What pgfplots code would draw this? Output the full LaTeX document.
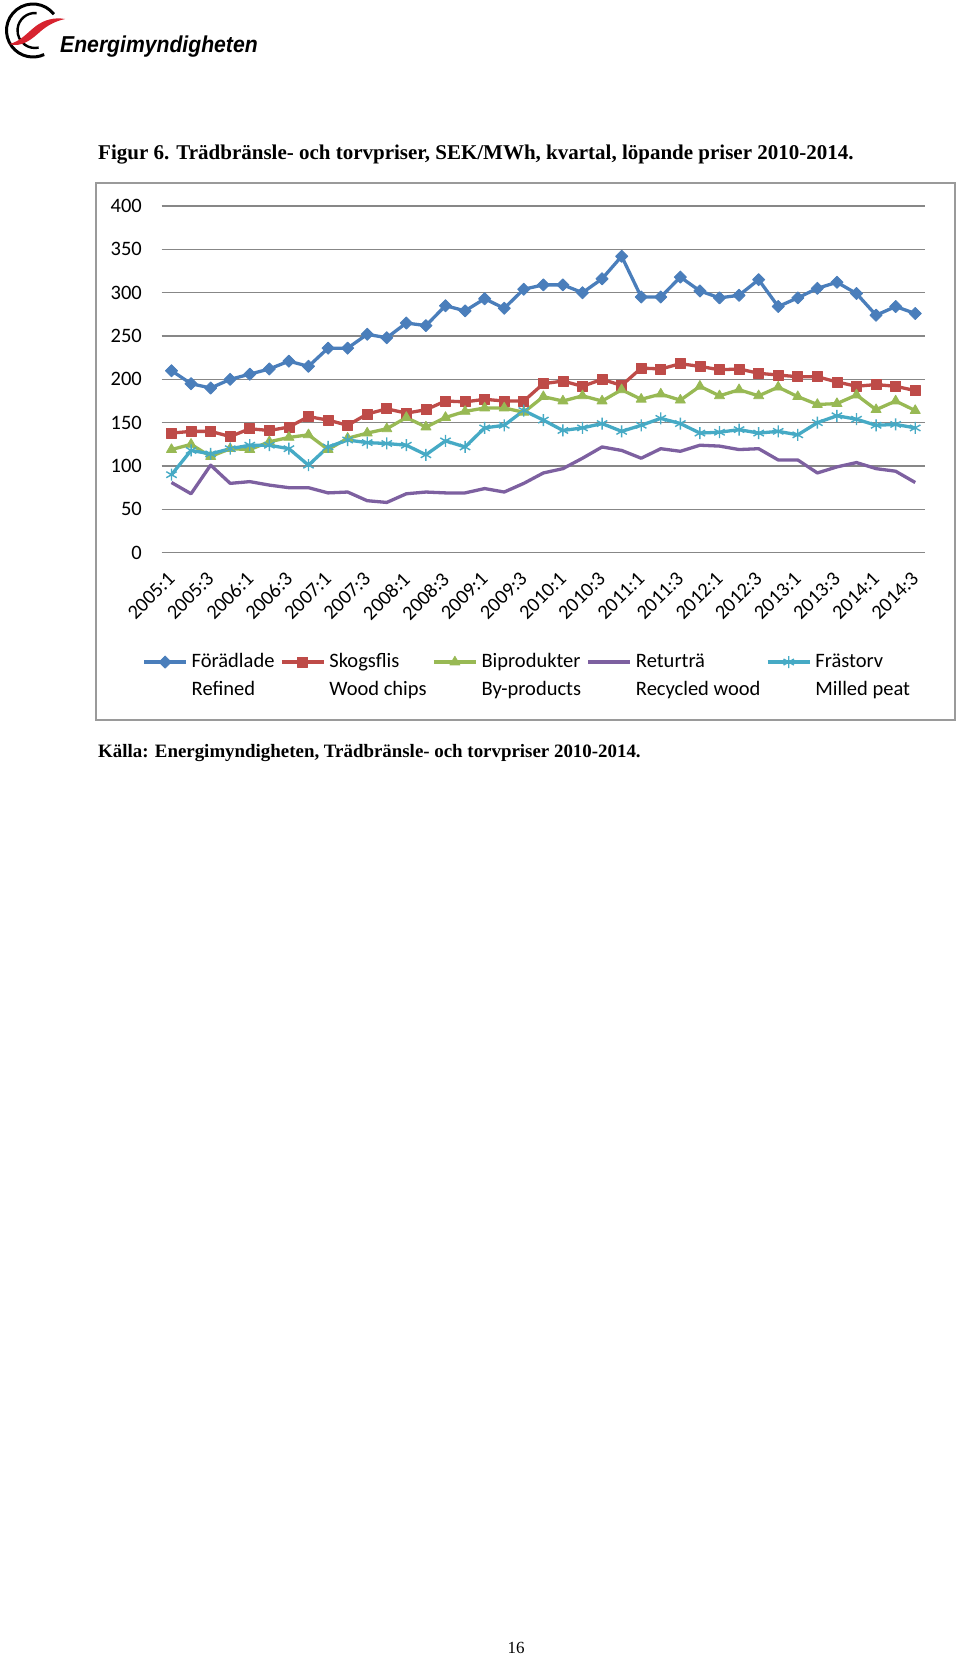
\documentclass[border=0pt]{standalone}
\usepackage{fontspec}
\setmainfont{Liberation Serif}
\newfontfamily\calibri{Carlito}
\newfontfamily\logofont{Liberation Sans}[FakeStretch=0.92]
\usepackage{pgfplots}
\pgfplotsset{compat=1.18}
\definecolor{cblue}{HTML}{4A7EBB}
\definecolor{cred}{HTML}{BE4B48}
\definecolor{cgreen}{HTML}{98B954}
\definecolor{cpurple}{HTML}{7D60A0}
\definecolor{ccyan}{HTML}{46AAC5}
\definecolor{gridgray}{HTML}{878787}
\definecolor{boxgray}{HTML}{9A9A9A}
\definecolor{logored}{HTML}{D7232F}
\newcommand{\cfont}{\calibri\fontsize{20.5pt}{25pt}\selectfont}
\newcommand{\xfont}{\calibri\fontsize{20.3pt}{24pt}\selectfont}

\begin{document}
\begin{tikzpicture}
\fill[white] (0,0) rectangle (960pt,-1664pt);
\path[use as bounding box] (0,0) rectangle (960pt,-1664pt);
% logo
\draw[line width=3pt] (33pt,-30.5pt) ++(38:26.5pt) arc[start angle=38, end angle=295, radius=26.5pt];
\draw[line width=2.4pt] (35pt,-30.5pt) ++(85:17.5pt) arc[start angle=85, end angle=282, radius=17.5pt];
\fill[logored] (9pt,-44pt) .. controls (20pt,-42pt) and (28pt,-32pt) .. (36pt,-26pt)
  .. controls (44pt,-20pt) and (54pt,-17pt) .. (65pt,-19pt)
  .. controls (56pt,-21pt) and (48pt,-25pt) .. (41pt,-31pt)
  .. controls (32pt,-39pt) and (22pt,-48pt) .. (9pt,-44pt) -- cycle;
\node[anchor=base west, inner sep=0pt] at (60pt,-53pt) {\logofont\bfseries\itshape\fontsize{23pt}{27pt}\selectfont Energimyndigheten};
% title
\node[anchor=base west, inner sep=0pt] at (98pt,-160pt) {\fontsize{21pt}{25pt}\selectfont\bfseries Figur 6. Trädbränsle- och torvpriser, SEK/MWh, kvartal, löpande priser 2010-2014.};
% chart box
\draw[boxgray, line width=1.2pt] (96pt,-183pt) rectangle (955pt,-720pt);
\begin{axis}[
  at={(161.7pt,-552.7pt)}, anchor=south west,
  scale only axis, width=763.3pt, height=346.7pt,
  xmin=-0.5, xmax=38.5, ymin=0, ymax=400,
  xtick={0,2,...,38},
  xticklabels={2005:1,2005:3,2006:1,2006:3,2007:1,2007:3,2008:1,2008:3,2009:1,2009:3,2010:1,2010:3,2011:1,2011:3,2012:1,2012:3,2013:1,2013:3,2014:1,2014:3},
  ytick={0,50,...,400},
  axis line style={draw=none},
  major tick length=0pt,
  ymajorgrids, grid style={gridgray, line width=1.1pt},
  yticklabel style={font=\cfont},
  xticklabel style={font=\xfont},
  /pgf/number format/assume math mode=true,
  yticklabel style={anchor=east, inner sep=0pt},
  yticklabel shift=19.7pt,
  xticklabel style={rotate=45, anchor=north east, inner sep=0pt, xshift=-3.5pt, yshift=3.5pt},
  xticklabel shift=18pt,
  legend columns=5,
  legend cell align=left,
  legend style={at={(-0.0255,-0.286)}, anchor=north west, draw=none, fill=none, inner sep=0pt,
    font=\cfont, nodes={inner sep=0pt, text height=15pt, text depth=5pt},
    /tikz/every odd column/.append style={column sep=4pt},
    /tikz/every even column/.append style={column sep=5.6pt},
    row sep=8.6pt},
  legend image code/.code={\draw[mark repeat=2,mark phase=2] plot coordinates {(0pt,0pt) (21pt,0pt) (42pt,0pt)};},
  every axis plot/.append style={line width=3.3pt, line join=round},
]
\addplot[cblue, mark=square*, mark size=4.3pt, mark options={solid, rotate=45, line width=0.8pt, fill=cblue}] coordinates {
(0,210) (1,195) (2,190) (3,200) (4,206) (5,212) (6,221) (7,215) (8,236) (9,236)
(10,252) (11,248) (12,265) (13,262) (14,285) (15,279) (16,293) (17,282) (18,304) (19,309)
(20,309) (21,300) (22,316) (23,342) (24,295) (25,295) (26,318) (27,302) (28,294) (29,297)
(30,315) (31,284) (32,294) (33,305) (34,312) (35,299) (36,274) (37,284) (38,276)};
\addlegendentry{Förädlade}
\addplot[cred, mark=square*, mark size=5pt, mark options={solid, line width=0.8pt, fill=cred}] coordinates {
(0,138) (1,140) (2,140) (3,134) (4,143) (5,141) (6,145) (7,157) (8,153) (9,147)
(10,160) (11,166) (12,161) (13,165) (14,175) (15,174) (16,177) (17,175) (18,175) (19,195)
(20,198) (21,192) (22,200) (23,193) (24,213) (25,212) (26,218) (27,215) (28,211) (29,212)
(30,207) (31,205) (32,203) (33,203) (34,197) (35,192) (36,194) (37,192) (38,187)};
\addlegendentry{Skogsflis}
\addplot[cgreen, mark=triangle*, mark size=5.8pt, mark options={solid, line width=0.8pt, fill=cgreen}] coordinates {
(0,119) (1,125) (2,111) (3,120) (4,119) (5,128) (6,133) (7,136) (8,119) (9,132)
(10,138) (11,143) (12,156) (13,145) (14,156) (15,163) (16,167) (17,167) (18,162) (19,180)
(20,175) (21,181) (22,175) (23,188) (24,177) (25,183) (26,176) (27,192) (28,181) (29,188)
(30,181) (31,191) (32,180) (33,171) (34,172) (35,182) (36,165) (37,175) (38,164)};
\addlegendentry{Biprodukter}
\addplot[cpurple, no markers] coordinates {
(0,81) (1,68) (2,101) (3,80) (4,82) (5,78) (6,75) (7,75) (8,69) (9,70)
(10,60) (11,58) (12,68) (13,70) (14,69) (15,69) (16,74) (17,70) (18,80) (19,92)
(20,97) (21,109) (22,122) (23,118) (24,109) (25,120) (26,117) (27,124) (28,123) (29,119)
(30,120) (31,107) (32,107) (33,92) (34,99) (35,104) (36,97) (37,94) (38,81)};
\addlegendentry{Returträ}
\addplot[ccyan, mark=asterisk, mark size=6pt, mark options={solid, line width=1.4pt}] coordinates {
(0,90) (1,118) (2,114) (3,120) (4,124) (5,124) (6,120) (7,101) (8,122) (9,130)
(10,127) (11,126) (12,124) (13,113) (14,129) (15,122) (16,144) (17,147) (18,164) (19,153)
(20,141) (21,144) (22,149) (23,140) (24,147) (25,155) (26,149) (27,138) (28,139) (29,142)
(30,138) (31,140) (32,136) (33,150) (34,158) (35,154) (36,147) (37,148) (38,144)};
\addlegendentry{Frästorv}
\addlegendimage{empty legend}\addlegendentry{Refined}
\addlegendimage{empty legend}\addlegendentry{Wood chips}
\addlegendimage{empty legend}\addlegendentry{By-products}
\addlegendimage{empty legend}\addlegendentry{Recycled wood}
\addlegendimage{empty legend}\addlegendentry{Milled peat}
\end{axis}
% source
\node[anchor=base west, inner sep=0pt] at (98pt,-757pt) {\fontsize{18.9pt}{23pt}\selectfont\bfseries Källa: Energimyndigheten, Trädbränsle- och torvpriser 2010-2014.};
% page number
\node[anchor=base, inner sep=0pt] at (516pt,-1653pt) {\fontsize{17pt}{20pt}\selectfont 16};
\end{tikzpicture}
\end{document}
